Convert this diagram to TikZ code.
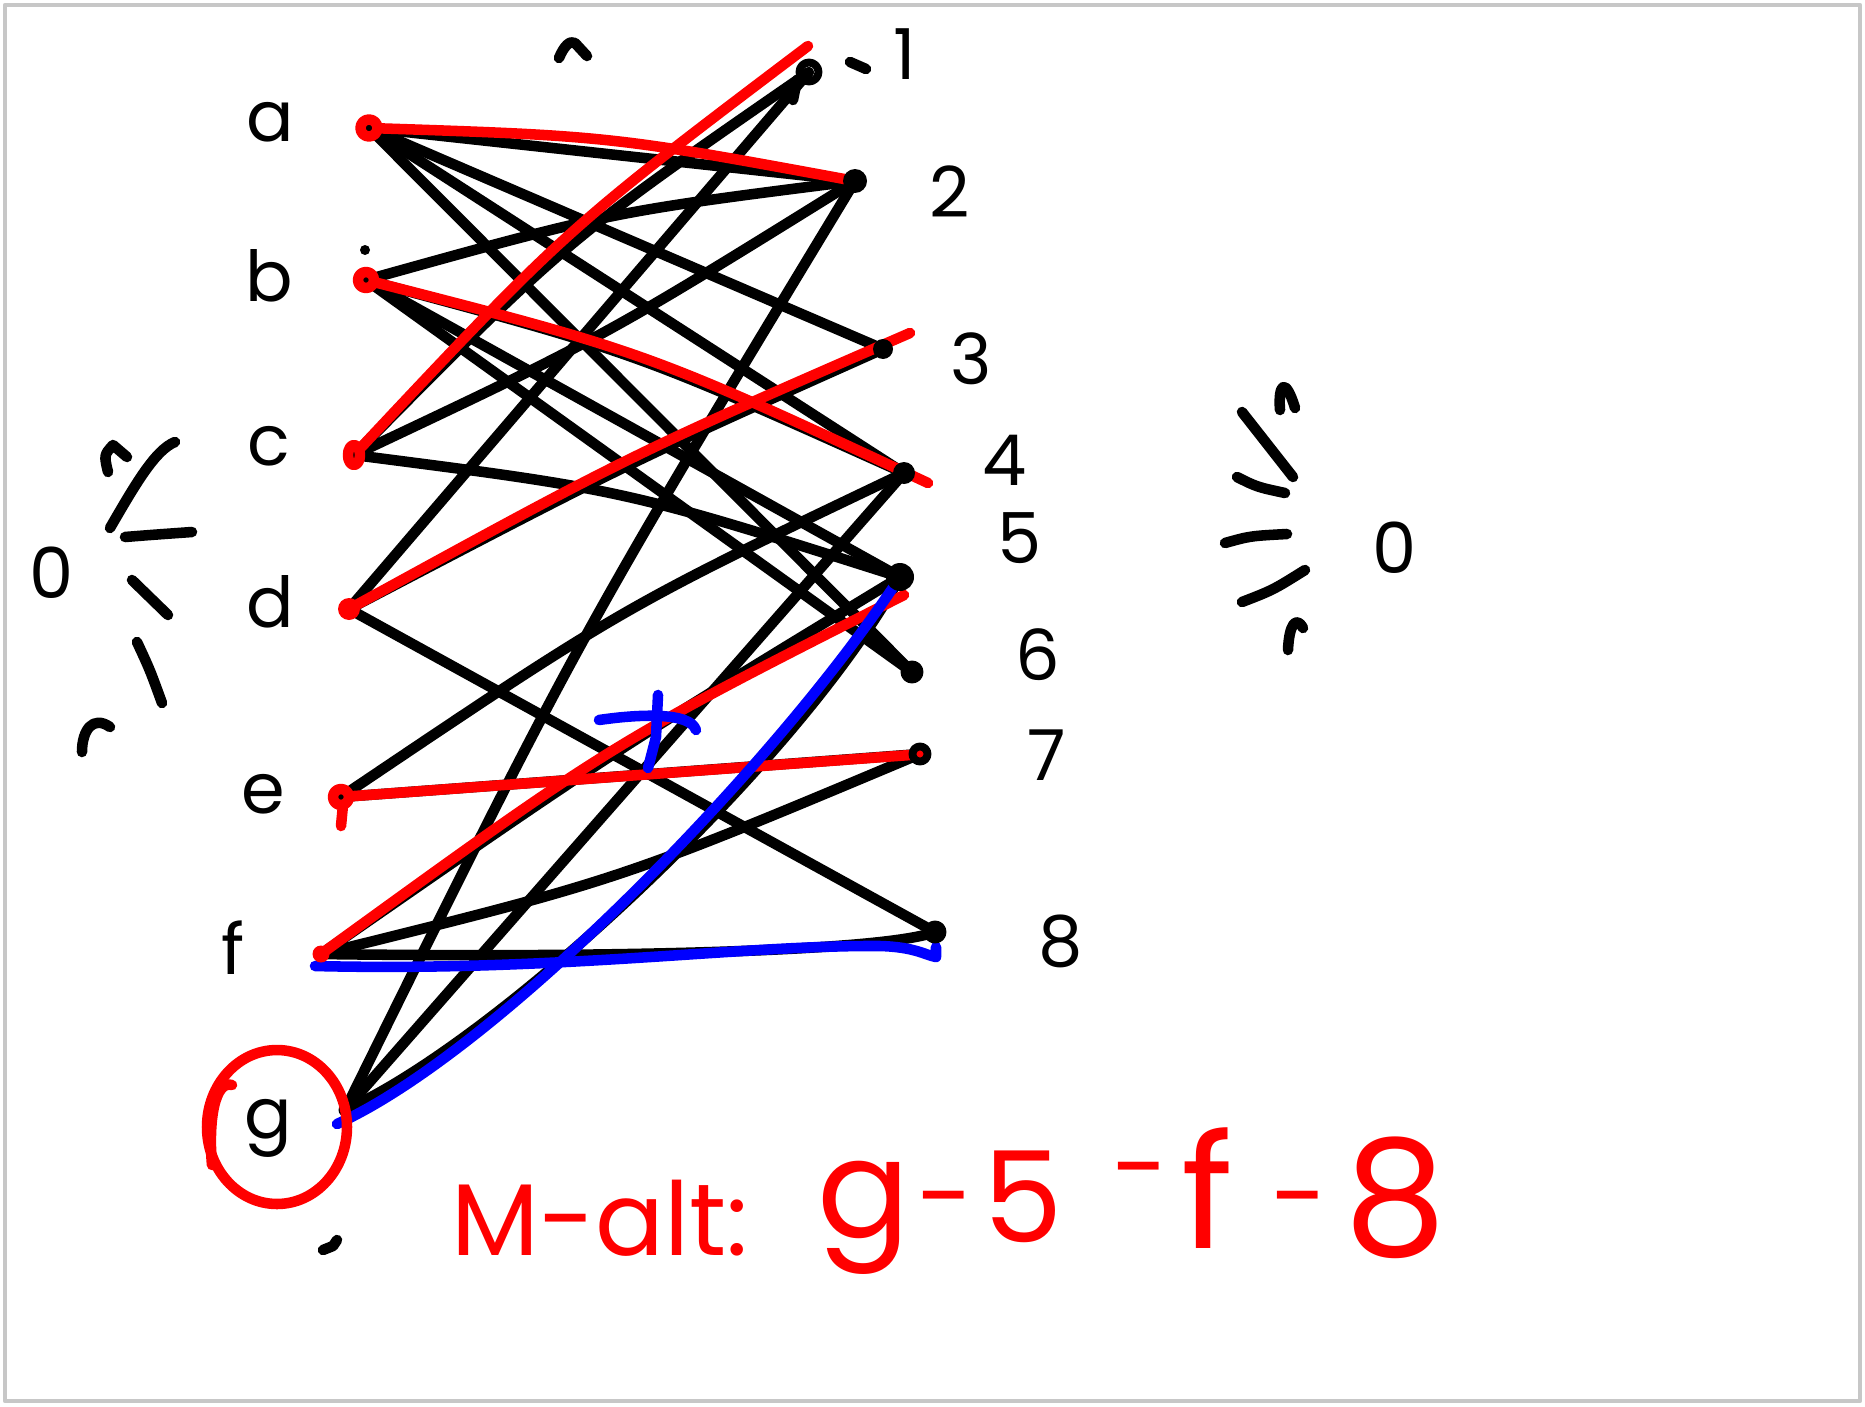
\documentclass[tikz,border=0pt]{standalone}
\usepackage{fontspec}
\setmainfont{Poppins}
\begin{document}
\begin{tikzpicture}[x=0.02cm,y=-0.02cm,
  line cap=round, line join=round,
  bk/.style={line width=6pt, black},
  rd/.style={line width=6pt, red},
  bl/.style={line width=6pt, blue},
  scrib/.style={line width=6pt, black},
  vtx/.style={circle, inner sep=0pt, minimum size=0pt},
  lbl/.style={font=\fontsize{40}{44}\selectfont, inner sep=0pt},
  note/.style={text=red, inner sep=0pt, anchor=base}]
\useasboundingbox (0,0) rectangle (1865,1406);
\draw[black!22, line width=2.5pt] (5,5) rectangle (1860,1401);

% vertices
\node[vtx] (a) at (369,128) {};
\node[vtx] (b) at (366,280) {};
\node[vtx] (c) at (354,455) {};
\node[vtx] (d) at (349,609) {};
\node[vtx] (e) at (341,797) {};
\node[vtx] (f) at (321,954) {};
\node[vtx] (g) at (345,1110) {};
\node[vtx] (n1) at (809,72) {};
\node[vtx] (n2) at (855,181) {};
\node[vtx] (n3) at (883,349) {};
\node[vtx] (n4) at (904,473) {};
\node[vtx] (n5) at (900,577) {};
\node[vtx] (n6) at (912,672) {};
\node[vtx] (n7) at (920,754) {};
\node[vtx] (n8) at (935,932) {};

% black edges
\draw[bk] (a) -- (n2);
\draw[bk] (a) -- (n3);
\draw[bk] (a) -- (n4);
\draw[bk] (a) -- (n6);
\draw[bk] (b) .. controls (610,212) .. (n2);
\draw[bk] (b) .. controls (635,352) .. (n4);
\draw[bk] (b) -- (n5);
\draw[bk] (b) -- (n6);
\draw[bk] (c) .. controls (566,240) .. (n1);
\draw[bk] (c) .. controls (604,337) .. (n2);
\draw[bk] (c) .. controls (626,490) .. (n5);
\draw[bk] (d) -- (n1);
\draw[bk] (d) .. controls (630,462) .. (n3);
\draw[bk] (d) -- (n8);
\draw[bk] (e) .. controls (623,607) .. (n4);
\draw[bk] (e) -- (n7);
\draw[bk] (f) .. controls (612,752) .. (n5);
\draw[bk] (f) .. controls (620,880) .. (n7);
\draw[bk] (f) .. controls (600,958) and (880,952) .. (n8);
\draw[bk] (g) .. controls (577,640) .. (n2);
\draw[bk] (g) -- (n4);
\draw[bk] (g) .. controls (500,1040) and (800,760) .. (n5);

% red matching
\coordinate (r1) at (808,46);
\coordinate (r3) at (910,333);
\coordinate (r4) at (928,483);
\coordinate (r5) at (904,595);
\coordinate (r7) at (924,754);
\draw[rd] (a) .. controls (611,136) .. (n2);
\draw[rd] (b) .. controls (647,352) .. (r4);
\draw[rd] (c) .. controls (566,229) .. (r1);
\draw[rd] (d) .. controls (630,455) .. (r3);
\draw[rd] (e) -- (r7);
\draw[rd] (f) .. controls (612,743) .. (r5);

% blue augmenting path
\coordinate (bg) at (337,1124);
\coordinate (bf) at (315,966);
\coordinate (b8) at (936,957);
\draw[bl] (bg) .. controls (500,1050) and (780,760) .. (n5);
\draw[bl] (bf) .. controls (560,972) and (740,945) .. (880,946) .. controls (915,947) and (925,955) .. (b8) -- ++(0,-10);
\draw[bl] (599,720) .. controls (640,714) and (690,712) .. (696,730);
\draw[bl] (658,695) -- (656,737) -- (648,768);

% vertex marks
\fill (a) circle (0.15cm);
\fill (b) circle (0.15cm);
\fill (c) circle (0.15cm);
\fill (d) circle (0.15cm);
\fill (e) circle (0.15cm);
\fill (f) circle (0.15cm);
\fill (g) circle (0.13cm);
\draw[bk, line width=4.5pt] (n1) circle (0.19cm);
\draw[bk] (797,80) -- (793,100);
\fill (n2) circle (0.24cm);
\fill (n3) circle (0.2cm);
\fill (n4) circle (0.22cm);
\fill (n5) circle (0.28cm);
\draw[bk, line width=4.5pt] (n6) circle (0.15cm);
\draw[bk, line width=4.5pt] (n7) circle (0.15cm);
\draw[bk, line width=4.5pt] (n8) circle (0.15cm);

\draw[rd] (a) circle (0.17cm);
\draw[rd] (b) circle (0.16cm);
\draw[rd] (c) ellipse (0.12cm and 0.2cm);
\fill[red] (d) circle (0.22cm);
\draw[rd] (e) circle (0.16cm);
\draw[rd] (343,805) -- (341,826);
\fill[red] (f) circle (0.17cm);

% red circle round g
\draw[rd] (277,1127) ellipse (1.4cm and 1.54cm);
\draw[rd] (232,1085) .. controls (215,1080) and (208,1120) .. (212,1165);

% labels
\node[lbl] (la) at (270,122) {a};
\node[lbl] (lb) at (269,276) {b};
\node[lbl] (lc) at (269,446) {c};
\node[lbl] (ld) at (270,602) {d};
\node[lbl] (le) at (263,794) {e};
\node[lbl] (lf) at (233,948) {f};
\node[lbl] (lg) at (268,1128) {g};
\node[lbl] (l1) at (905,54) {1};
\node[lbl] (l2) at (950,192) {2};
\node[lbl] (l3) at (971,359) {3};
\node[lbl] (l4) at (1005,460) {4};
\node[lbl] (l5) at (1020,538) {5};
\node[lbl] (l6) at (1038,655) {6};
\node[lbl] (l7) at (1047,755) {7};
\node[lbl] (l8) at (1061,941) {8};
\node[lbl] (z1) at (52,573) {0};
\node[lbl] (z2) at (1395,548) {0};

% stray strokes
\draw[scrib] (559,58) .. controls (564,46) and (570,40) .. (575,43) -- (587,56);
\draw[scrib] (850,62) -- (866,69);
\draw[scrib] (108,472) .. controls (104,455) .. (113,445) -- (127,457);
\draw[scrib] (110,528) .. controls (135,485) and (155,450) .. (175,442);
\draw[scrib] (125,537) .. controls (150,535) .. (192,532);
\draw[scrib] (132,580) -- (168,615);
\draw[scrib] (137,642) .. controls (150,670) .. (162,703);
\draw[scrib] (82,752) .. controls (82,730) and (93,715) .. (110,727);
\draw[scrib] (1280,410) .. controls (1278,385) and (1285,375) .. (1295,408);
\draw[scrib] (1242,412) -- (1293,477);
\draw[scrib] (1237,477) .. controls (1257,487) .. (1285,493);
\draw[scrib] (1225,543) .. controls (1250,536) .. (1287,534);
\draw[scrib] (1242,602) .. controls (1273,590) .. (1305,570);
\draw[scrib] (1288,650) .. controls (1289,625) and (1296,615) .. (1303,628);
\fill (365,250) circle (0.1cm);
\draw[scrib] (323,1250) -- (333,1246) -- (337,1240);

% red note
\node[note, font=\fontsize{58}{62}\selectfont] (m1) at (600,1255) {M-alt:};
\node[note, font=\fontsize{78}{82}\selectfont] (m2) at (864,1237) {g};
\node[note, font=\fontsize{58}{62}\selectfont] (m3) at (946,1232) {-};
\node[note, font=\fontsize{72}{76}\selectfont] (m4) at (1023,1242) {5};
\node[note, font=\fontsize{58}{62}\selectfont] (m5) at (1141,1203) {-};
\node[note, font=\fontsize{90}{94}\selectfont] (m6) at (1207,1248) {f};
\node[note, font=\fontsize{58}{62}\selectfont] (m7) at (1300,1232) {-};
\node[note, font=\fontsize{92}{96}\selectfont] (m8) at (1395,1255) {8};
\end{tikzpicture}
\end{document}
